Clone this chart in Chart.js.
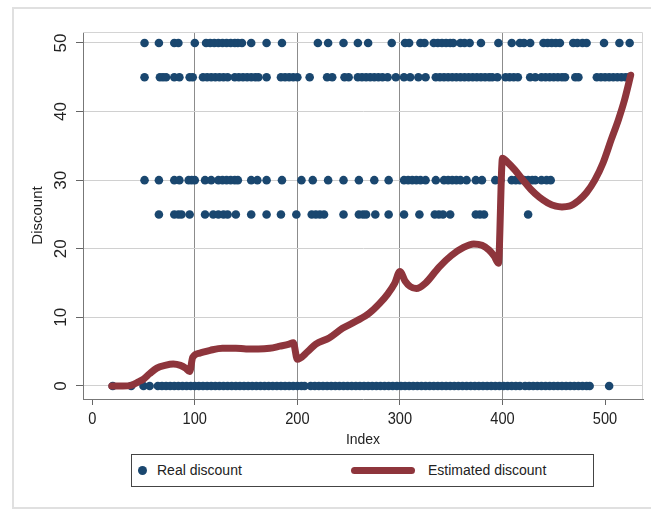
<!DOCTYPE html>
<html>
<head>
<meta charset="utf-8">
<script src="https://cdn.jsdelivr.net/npm/chart.js@4/dist/chart.umd.min.js"></script>
<style>
  body { margin: 0; background: #fff; font-family: "Liberation Sans", Arial, sans-serif; }
  #wrap { position: relative; width: 651px; height: 513px; overflow: hidden; }
  #frame { position: absolute; left: 12px; top: 7px; width: 700px; height: 498px; border: 2px solid #e0e0e0; }
  #chart { position: absolute; left: 0; top: 0; }
  #legend { position: absolute; left: 131px; top: 454px; width: 461px; height: 31px; border: 1px solid #444; background: #fff; }
  #legend .dot { position: absolute; left: 6px; top: 11px; width: 9px; height: 9px; border-radius: 50%; background: #1a476f; }
  #legend .bar { position: absolute; left: 219px; top: 12px; width: 64px; height: 7px; border-radius: 4px; background: #8e353c; }
  #legend .lbl { position: absolute; top: 7px; font-size: 14px; color: #222; white-space: nowrap; }
</style>
</head>
<body>
<div id="wrap">
  <div id="frame"></div>
  <canvas id="chart" width="651" height="513"></canvas>
  <div id="legend">
    <span class="dot"></span><span class="lbl" style="left:25px">Real discount</span>
    <span class="bar"></span><span class="lbl" style="left:296px">Estimated discount</span>
  </div>
</div>
<script>
// tick labels
const xTickValues = [0, 100, 200, 300, 400, 500];
const yTickValues = [0, 10, 20, 30, 40, 50];
const xLines = [100, 200, 300, 400]; // dark vertical reference lines

// Real discount: index positions of the dots in each row
const idx50 = [51, 65, 80, 84, 100, 111, 115, 119, 123, 127, 131, 135, 139, 142, 146, 155, 170, 185,
  220, 230, 245, 259, 269, 292, 305, 309, 320, 324, 333, 337, 341, 345, 349, 352, 359, 363, 368, 379,
  396, 409, 417, 421, 427, 440, 444, 448, 452, 456, 469, 473, 478, 482, 499, 514, 524];
const idx45 = [51, 66, 69, 72, 80, 85, 95, 98, 108, 112, 116, 120, 124, 128, 132, 139, 143, 147, 151,
  155, 159, 162, 170, 184, 188, 192, 196, 200, 212, 229, 234, 246, 250, 259, 263, 267, 271, 275, 279,
  283, 288, 296, 304, 310, 318, 325, 335, 339, 343, 347, 351, 355, 359, 363, 367, 371, 375, 379, 383,
  387, 390, 395, 403, 407, 411, 415, 427, 432, 438, 442, 446, 450, 454, 458, 461, 471, 474, 492, 496,
  500, 504, 508, 512, 516, 520, 523];
const idx30 = [51, 65, 80, 85, 94, 97, 100, 110, 116, 123, 127, 131, 135, 139, 142, 155, 161, 170, 185,
  204, 215, 230, 245, 260, 275, 289, 304, 308, 312, 316, 320, 325, 335, 343, 347, 351, 355, 359, 365,
  374, 380, 393, 398, 409, 413, 417, 421, 425, 429, 432, 438, 443, 447];
const idx25 = [65, 80, 84, 87, 95, 110, 118, 123, 128, 132, 140, 155, 170, 184, 199, 214, 218, 222, 226,
  245, 260, 264, 267, 276, 289, 304, 319, 334, 338, 342, 349, 374, 378, 382, 425];
const idx0 = [20, 38, 50, 56,
  64, 68, 72, 76, 80, 84, 88, 92, 96, 100, 104, 108, 112, 116, 120, 124, 128, 132, 136, 140, 144, 148,
  152, 156, 160, 164, 168, 172, 176, 180, 184, 188, 192, 196, 200, 204, 207,
  213, 217, 221, 225, 229, 233, 237, 241, 245, 249, 253, 257, 261, 265, 269, 273, 277, 281, 285, 289,
  293, 297, 301, 305, 309, 313, 317, 321, 325, 329, 333, 337, 341, 345, 349, 353, 357, 361, 365, 369,
  373, 377, 381, 385, 389, 393, 397, 401, 405, 409, 413, 417,
  422, 426, 430, 434, 438, 442, 446, 450, 454, 458, 462, 466, 470, 474, 478, 482, 485,
  504];

// Estimated discount curve
const estIndex = [19, 30, 38, 45, 50, 56, 63, 71, 79, 86, 91, 95, 98, 105, 115, 127, 140, 150, 162, 173,
  183, 192, 196, 200, 210, 218, 231, 244, 258, 270, 280, 288, 295, 300, 305, 310, 316, 325, 338, 350,
  362, 372, 380, 387, 392, 396, 400, 405, 412, 420, 428, 436, 444, 452, 458, 465, 474, 482, 490, 498,
  506, 513, 519, 525];
const estValue = [0, 0, 0.1, 0.6, 1.0, 1.8, 2.6, 3.0, 3.2, 3.0, 2.6, 2.1, 4.2, 4.8, 5.2, 5.5, 5.5, 5.4,
  5.4, 5.5, 5.8, 6.1, 6.3, 3.9, 5.0, 6.1, 7.0, 8.4, 9.5, 10.6, 12.0, 13.4, 15.0, 16.7, 15.3, 14.5, 14.2,
  15.0, 17.3, 19.0, 20.2, 20.7, 20.5, 19.8, 18.9, 17.9, 33.2, 32.6, 31.5, 30.0, 28.6, 27.5, 26.7, 26.2,
  26.1, 26.2, 27.0, 28.2, 30.0, 32.5, 35.9, 38.8, 41.7, 45.3];

const realPoints = [];
[[idx50, 50], [idx45, 45], [idx30, 30], [idx25, 25], [idx0, 0]].forEach(([list, val]) => {
  list.forEach(i => realPoints.push({ x: i, y: val }));
});
const estPoints = estIndex.map((i, k) => ({ x: i, y: estValue[k] }));

const FONT = '"Liberation Sans", Arial, sans-serif';

// tick labels drawn by hand: y labels are rotated like the original
const tickLabels = {
  id: "tickLabels",
  beforeDatasetsDraw(chart) {
    const { ctx, chartArea: a } = chart;
    ctx.save();
    ctx.strokeStyle = "#d4d4d4";
    ctx.lineWidth = 1;
    ctx.beginPath();
    ctx.moveTo(a.left, a.top + 0.5);
    ctx.lineTo(a.right - 0.5, a.top + 0.5);
    ctx.lineTo(a.right - 0.5, a.bottom);
    ctx.stroke();
    ctx.restore();
  },
  afterDraw(chart) {
    const { ctx, scales: { x, y } } = chart;
    ctx.save();
    ctx.fillStyle = "#222";
    ctx.font = "17px " + FONT;
    ctx.textAlign = "center";
    ctx.textBaseline = "middle";
    xTickValues.forEach(v => {
      ctx.save();
      ctx.translate(x.getPixelForValue(v), x.top + 20);
      ctx.scale(0.86, 1);
      ctx.fillText(String(v), 0, 0);
      ctx.restore();
    });
    yTickValues.forEach(v => {
      ctx.save();
      ctx.translate(y.right - 22, y.getPixelForValue(v));
      ctx.rotate(-Math.PI / 2);
      ctx.fillText(String(v), 0, 0);
      ctx.restore();
    });
    ctx.restore();
  }
};

new Chart(document.getElementById("chart"), {
  type: "scatter",
  data: {
    datasets: [
      {
        label: "Real discount",
        data: realPoints,
        backgroundColor: "#1a476f",
        borderColor: "#1a476f",
        borderWidth: 0,
        pointRadius: 4.3,
        order: 1
      },
      {
        type: "line",
        label: "Estimated discount",
        data: estPoints,
        borderColor: "#8e353c",
        borderWidth: 7,
        borderCapStyle: "round",
        borderJoinStyle: "round",
        cubicInterpolationMode: "monotone",
        pointRadius: 0,
        fill: false,
        order: 0
      }
    ]
  },
  options: {
    responsive: false,
    animation: false,
    devicePixelRatio: 1,
    layout: { padding: { left: 0, right: 8, top: 32, bottom: 64 } },
    plugins: { legend: { display: false }, tooltip: { enabled: false } },
    scales: {
      x: {
        type: "linear",
        min: -9,
        max: 537,
        afterBuildTicks: s => { s.ticks = xTickValues.map(v => ({ value: v })); },
        afterFit: s => { s.height = 50; },
        ticks: { display: false },
        grid: {
          color: c => (c.tick && xLines.includes(c.tick.value)) ? "#8c8c8c" : "rgba(0,0,0,0)",
          tickColor: "#666",
          tickLength: 6,
          lineWidth: 1
        },
        border: { color: "#777", width: 1 },
        title: {
          display: true,
          text: "Index",
          color: "#222",
          font: { family: FONT, size: 14 },
          padding: { top: 0, bottom: 0 }
        }
      },
      y: {
        min: -1.9,
        max: 51.6,
        afterBuildTicks: s => { s.ticks = yTickValues.map(v => ({ value: v })); },
        afterFit: s => { s.width = 83; },
        ticks: { display: false },
        grid: {
          color: "#d0d0d0",
          tickColor: "#666",
          tickLength: 7,
          lineWidth: 1
        },
        border: { color: "#777", width: 1 },
        title: {
          display: true,
          text: "Discount",
          color: "#222",
          font: { family: FONT, size: 15 },
          padding: { top: 29, bottom: 0 }
        }
      }
    }
  },
  plugins: [tickLabels]
});
</script>
</body>
</html>
